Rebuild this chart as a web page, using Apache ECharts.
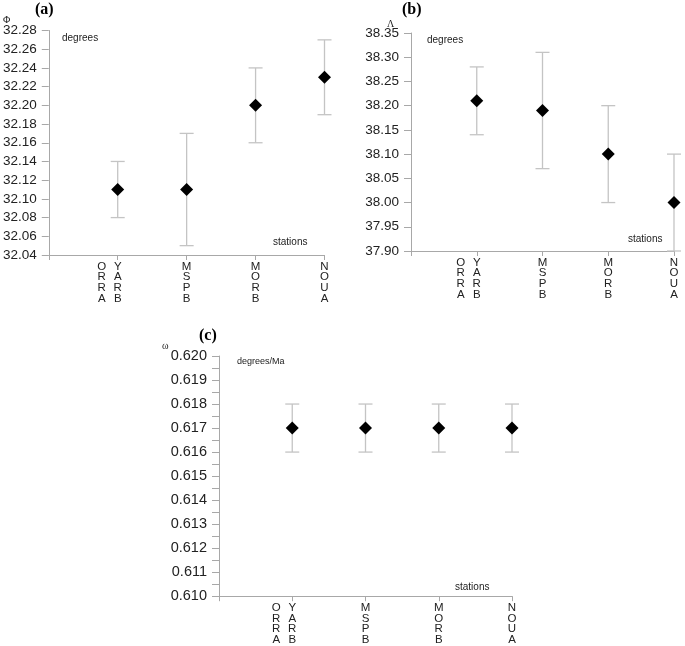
<!DOCTYPE html>
<html>
<head>
<meta charset="utf-8">
<script src="https://cdn.jsdelivr.net/npm/echarts@6/dist/echarts.min.js"></script>
<style>html,body{margin:0;padding:0;background:#fff}#c{width:685px;height:646px}</style>
</head>
<body>
<div id="c"></div>
<script>
// ---- data ----
const stations = ['ORRA|YARB', 'MSPB', 'MORB', 'NOUA'];

const phiValues = [32.11, 32.11, 32.20, 32.23];
const phiLow    = [32.08, 32.05, 32.16, 32.19];
const phiHigh   = [32.14, 32.17, 32.24, 32.27];

const lambdaValues = [38.21, 38.19, 38.10, 38.00];
const lambdaLow    = [38.14, 38.07, 38.00, 37.90];
const lambdaHigh   = [38.28, 38.31, 38.20, 38.10];

const omegaValues = [0.617, 0.617, 0.617, 0.617];
const omegaLow    = [0.616, 0.616, 0.616, 0.616];
const omegaHigh   = [0.618, 0.618, 0.618, 0.618];

const phiTicks = {min: 32.04, max: 32.28, interval: 0.02, digits: 2};
const lambdaTicks = {min: 37.90, max: 38.35, interval: 0.05, digits: 2};
const omegaTicks = {min: 0.610, max: 0.620, interval: 0.001, digits: 3};

// ---- build ----
const cats = [''].concat(stations);
const FONT = 'Liberation Sans, Arial, sans-serif';
const AXIS_COLOR = '#a8a8a8';
const BAR_COLOR = '#c4c4c4';

function labelFormatter(v) {
  if (!v) return '';
  const parts = v.split('|');
  if (parts.length === 2) {
    const a = parts[0].split(''), b = parts[1].split('');
    return a.map((ch, i) => '{c|' + ch + '}{c|' + b[i] + '}{c| }').join('\n');
  }
  return v.split('').map(ch => '{c|' + ch + '}').join('\n');
}

function xAxis(gi) {
  return {
    type: 'category', gridIndex: gi, data: cats, boundaryGap: false,
    axisLine: {lineStyle: {color: AXIS_COLOR, width: 1}},
    axisTick: {show: true, length: 5, alignWithLabel: true, lineStyle: {color: AXIS_COLOR}},
    axisLabel: {
      interval: 0, margin: 6, color: '#222', fontFamily: FONT, fontSize: 11,
      formatter: labelFormatter,
      rich: {c: {width: 16, align: 'center', fontSize: 11.5, lineHeight: 10.8, fontFamily: FONT, color: '#222'}}
    },
    splitLine: {show: false}
  };
}

function yAxis(gi, t, minor, fs) {
  return {
    type: 'value', gridIndex: gi, min: t.min, max: t.max, interval: t.interval,
    axisLine: {show: true, lineStyle: {color: AXIS_COLOR, width: 1}},
    axisTick: {show: true, length: 7, lineStyle: {color: AXIS_COLOR}},
    minorTick: {show: !!minor, splitNumber: 2, length: 7, lineStyle: {color: AXIS_COLOR}},
    axisLabel: {margin: 12, color: '#222', fontFamily: FONT, fontSize: fs,
      formatter: v => v.toFixed(t.digits)},
    splitLine: {show: false}
  };
}

function errSeries(gi, low, high) {
  return {
    type: 'custom', xAxisIndex: gi, yAxisIndex: gi, z: 1,
    data: low.map((l, i) => [i + 1, l, high[i]]),
    renderItem: function (params, api) {
      const x = api.value(0);
      const p1 = api.coord([x, api.value(1)]);
      const p2 = api.coord([x, api.value(2)]);
      const hw = 7;
      const style = {stroke: BAR_COLOR, lineWidth: 1.3};
      return {type: 'group', children: [
        {type: 'line', shape: {x1: p1[0], y1: p1[1], x2: p2[0], y2: p2[1]}, style: style},
        {type: 'line', shape: {x1: p1[0] - hw, y1: p1[1], x2: p1[0] + hw, y2: p1[1]}, style: style},
        {type: 'line', shape: {x1: p2[0] - hw, y1: p2[1], x2: p2[0] + hw, y2: p2[1]}, style: style}
      ]};
    }
  };
}

function ptSeries(gi, vals) {
  return {
    type: 'scatter', xAxisIndex: gi, yAxisIndex: gi, z: 3,
    symbol: 'diamond', symbolSize: [13, 13],
    itemStyle: {color: '#000', opacity: 1},
    data: vals.map((v, i) => [i + 1, v])
  };
}

function txt(left, top, text, size, opts) {
  return {type: 'text', left: left, top: top,
    style: {text: text, font: (opts && opts.font) || (size + 'px ' + FONT), fill: (opts && opts.fill) || '#222'}};
}

const option = {
  animation: false,
  backgroundColor: '#fff',
  grid: [
    {left: 48.5, top: 30.5, width: 276, height: 224.5},
    {left: 411, top: 33, width: 266, height: 218},
    {left: 219, top: 356, width: 293, height: 241}
  ],
  xAxis: [xAxis(0), xAxis(1), xAxis(2)],
  yAxis: [yAxis(0, phiTicks, false, 13.5), yAxis(1, lambdaTicks, false, 13.5), yAxis(2, omegaTicks, true, 14.5)],
  series: [
    errSeries(0, phiLow, phiHigh), ptSeries(0, phiValues),
    errSeries(1, lambdaLow, lambdaHigh), ptSeries(1, lambdaValues),
    errSeries(2, omegaLow, omegaHigh), ptSeries(2, omegaValues)
  ],
  graphic: [
    txt(35, 2, '(a)', 15, {font: 'bold 16px Liberation Serif, Times New Roman, serif', fill: '#000'}),
    txt(402, 2, '(b)', 15, {font: 'bold 16px Liberation Serif, Times New Roman, serif', fill: '#000'}),
    txt(199, 328, '(c)', 15, {font: 'bold 16px Liberation Serif, Times New Roman, serif', fill: '#000'}),
    txt(3, 15, 'Φ', 10, {font: '10px Liberation Serif, serif'}),
    txt(387, 19, 'Λ', 10, {font: '10px Liberation Serif, serif'}),
    txt(162, 341, 'ω', 10, {font: '10px Liberation Serif, serif'}),
    txt(62, 33, 'degrees', 10),
    txt(427, 35, 'degrees', 10),
    txt(237, 357, 'degrees/Ma', 9),
    txt(273, 237, 'stations', 10),
    txt(628, 234, 'stations', 10),
    txt(455, 582, 'stations', 10)
  ]
};

const chart = echarts.init(document.getElementById('c'), null, {renderer: 'canvas'});
chart.setOption(option);
</script>
</body>
</html>
